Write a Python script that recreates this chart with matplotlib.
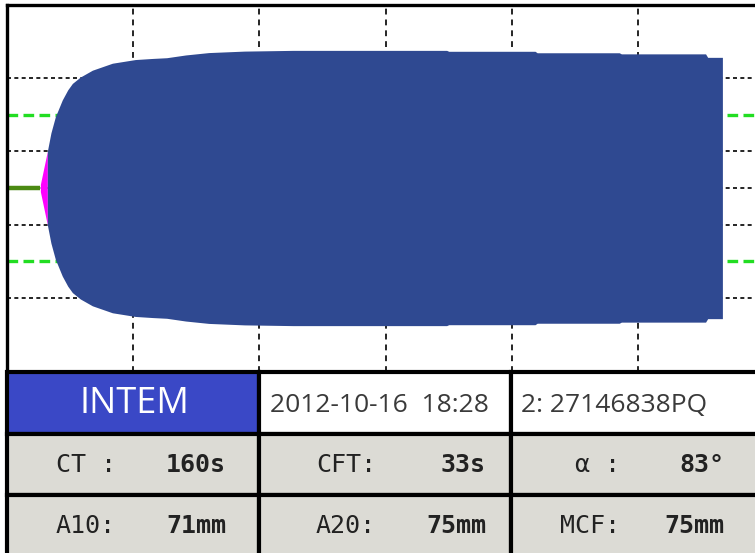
import matplotlib as mpl
mpl.use('Agg')
import matplotlib.pyplot as plt
from matplotlib.patches import Rectangle
import numpy as np

# INTEM trace: time (s) vs clot amplitude (mm)
ct = 160
cft = 33
time_s = [193, 210, 231, 264, 290, 312, 350, 407, 502, 611, 692, 760, 850,
          960, 1129, 1360, 2090, 2100, 2510, 2520, 2910, 2920, 3320, 3330, 3400]
amp_mm = [20, 30, 38.8, 48, 53.5, 57, 60.5, 64.2, 68, 70, 70.6, 71, 72.5,
          73.8, 74.6, 75, 75, 74.5, 74.5, 73.7, 73.7, 73.1, 73.1, 71.2, 71.2]
cft_time = [ct, ct + cft]
cft_amp = [2, 20]

grid_t = [600, 1200, 1800, 2400, 3000]
grid_a = [-30, -10, 0, 10, 30]
ref_a = [-20, 20]

# result table
test_name = 'INTEM'
run_date = '2012-10-16  18:28'
sample_id = '2: 27146838PQ'
row2 = [('CT :', '160s'), ('CFT:', '33s'), ('α :', '83°')]
row3 = [('A10:', '71mm'), ('A20:', '75mm'), ('MCF:', '75mm')]

W, H = 755, 553
fig = plt.figure(figsize=(W / 100, H / 100), dpi=100)

# plot area in pixels
px_left, px_top, px_bottom = 6.7, 4.5, 371.5
sec_per_px = 600 / 126.3
tmax = 3570
px_right = px_left + tmax / sec_per_px
ax = fig.add_axes([px_left / W, 1 - px_bottom / H,
                   (px_right - px_left) / W, (px_bottom - px_top) / H])
ax.set_xlim(0, tmax)
ax.set_ylim(-50, 50)
ax.set_xticks([])
ax.set_yticks([])
for s in ax.spines.values():
    s.set_linewidth(2.4)
    s.set_color('black')

for t in grid_t:
    ax.axvline(t, color='black', lw=1.2, ls=(0, (3.5, 3)), zorder=1)
for a in grid_a:
    ax.axhline(a, color='black', lw=1.2, ls=(0, (2.4, 2)), zorder=1)
for a in ref_a:
    ax.axhline(a, color='#22dd22', lw=2.4, ls=(0, (3.2, 1.6)), zorder=1.5)

# CT phase
ax.plot([0, ct], [0, 0], color='#4b8a12', lw=3.2, solid_capstyle='butt', zorder=2)
# CFT phase
ct_t = np.array(cft_time)
ct_a = np.array(cft_amp) / 2
ax.fill_between(ct_t, -ct_a, ct_a, color='#ff00ff', lw=0, zorder=2.5)
# clot firmness
t = np.array(time_s)
a = np.array(amp_mm) / 2
ax.fill_between(t, -a, a, color='#2f4991', lw=0, zorder=3)

# table in pixel coordinates
tab = fig.add_axes([0, 0, 1, 1])
tab.set_xlim(0, W)
tab.set_ylim(H, 0)
tab.axis('off')

col_x = [px_left, 259, 510.5, 760]
row_y = [px_bottom, 434, 495, 557]
fills = [['#3a48c6', 'white', 'white'],
         ['#dcdbd5'] * 3,
         ['#dcdbd5'] * 3]
for r in range(3):
    for c in range(3):
        tab.add_patch(Rectangle((col_x[c], row_y[r]), col_x[c + 1] - col_x[c],
                                row_y[r + 1] - row_y[r], facecolor=fills[r][c],
                                edgecolor='black', lw=3.0))

sans = ['Open Sans', 'DejaVu Sans']
tab.text(134, 404, test_name, color='white', fontsize=26, family=sans,
         ha='center', va='center')
tab.text(270, 405, run_date, color='#3a3a3a', fontsize=19, family=sans,
         ha='left', va='center')
tab.text(521, 405, sample_id, color='#3a3a3a', fontsize=19, family=sans,
         ha='left', va='center')

lab_right = [116, 376, 620]
val_right = [226, 486, 724]
for r, (row, yc) in enumerate([(row2, 465), (row3, 526)]):
    for c, (lab, val) in enumerate(row):
        tab.text(lab_right[c], yc, lab, color='#222222', fontsize=18,
                 family='DejaVu Sans Mono', ha='right', va='center')
        tab.text(val_right[c], yc, val, color='#222222', fontsize=18,
                 family='DejaVu Sans Mono', fontweight='bold',
                 ha='right', va='center')

fig.savefig('out.png', dpi=100)
